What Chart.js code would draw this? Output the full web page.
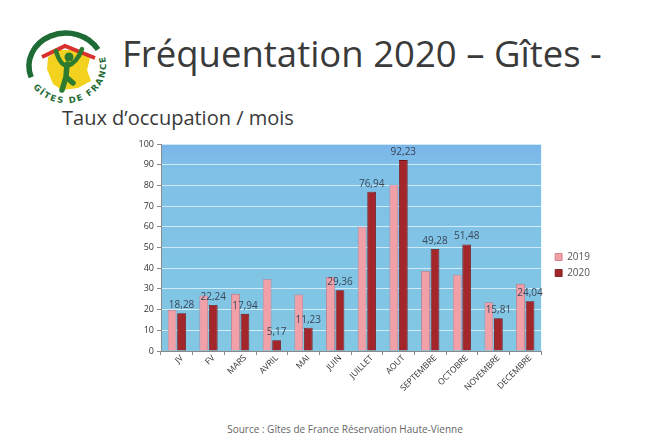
<!DOCTYPE html>
<html lang="fr">
<head>
<meta charset="utf-8">
<script src="https://cdn.jsdelivr.net/npm/chart.js@4.4.0/dist/chart.umd.min.js"></script>
<style>
  html, body { margin:0; padding:0; background:#fff; width:658px; height:439px; overflow:hidden; }
  .t { position:absolute; white-space:nowrap; line-height:1; font-family:"Open Sans", sans-serif; }
  #title { left:122px; top:35px; font-size:36.5px; color:#3a3a3a; }
  #sub { left:62px; top:108px; font-size:20px; color:#3a3a3a; }
  #src { left:0; width:690px; text-align:center; top:424px; font-size:10px; color:#666; }
  #wrap { position:absolute; left:100px; top:128px; width:500px; height:280px; }
</style>
</head>
<body>
<svg width="130" height="115" style="position:absolute;left:0;top:0">
  <defs>
    <path id="arcTxt" d="M 33.2 87.2 A 40 37 0 0 0 103.6 53.3" fill="none"/>
  </defs>
  <path d="M 31.2 77.3 A 37 33 0 0 1 98 49.5" fill="none" stroke="#1f6b35" stroke-width="5.5"/>
  <polygon points="48,57 60,50 77,50 90,58 87,70 91,81 78,88 62,90 53,84 47,69" fill="#f2d21e"/>
  <polyline points="42,57 65,46 95,58" fill="none" stroke="#d8302c" stroke-width="4" stroke-linejoin="miter"/>
  <circle cx="69" cy="57" r="4.5" fill="#2e7a2f"/>
  <path d="M 56 51 Q 60 65 67 66 Q 77 63 82 49" fill="none" stroke="#2e7a2f" stroke-width="4.5" stroke-linecap="round"/>
  <path d="M 67 64 L 66 77 L 62 90 M 66 77 L 73 83" fill="none" stroke="#2e7a2f" stroke-width="5.5" stroke-linecap="round"/>
  <text font-family="DejaVu Sans, sans-serif" font-weight="bold" font-size="8.5" fill="#1f6b35">
    <textPath href="#arcTxt" startOffset="0" textLength="108" lengthAdjust="spacing">GÎTES DE FRANCE</textPath>
  </text>
</svg>
<div class="t" id="title">Fréquentation 2020 – Gîtes -</div>
<div class="t" id="sub">Taux d’occupation / mois</div>
<div class="t" id="src">Source : Gîtes de France Réservation Haute-Vienne</div>
<div id="wrap"><canvas id="c"></canvas></div>
<script>
const months = ["JV","FV","MARS","AVRIL","MAI","JUIN","JUILLET","AOUT","SEPTEMBRE","OCTOBRE","NOVEMBRE","DECEMBRE"];
const seriesNames = ["2019","2020"];
const values2019 = [19.8, 26.8, 27.6, 34.7, 27.3, 35.8, 60.0, 80.3, 38.7, 36.8, 23.5, 32.4];
const values2020 = [18.28, 22.24, 17.94, 5.17, 11.23, 29.36, 76.94, 92.23, 49.28, 51.48, 15.81, 24.04];
const yMin = 0, yMax = 100, yStep = 10;

const plotBg = {
  id:'plotBg',
  beforeDraw(chart){
    const {ctx, chartArea:a} = chart;
    const g = ctx.createLinearGradient(0, a.top, 0, a.bottom);
    g.addColorStop(0, '#7bb5ea');
    g.addColorStop(0.13, '#7fc1e7');
    g.addColorStop(1, '#82c7e3');
    ctx.save(); ctx.fillStyle = g; ctx.fillRect(a.left, a.top, a.right-a.left, a.bottom-a.top); ctx.restore();
  }
};
const legendShift = {
  id:'legendShift',
  beforeDraw(chart){
    const l = chart.legend;
    if (l && !l._shifted) { l.left += 8; l.right += 8; l.top -= 11; l.bottom -= 11; l._shifted = true; }
  }
};
const valueLabels = {
  id:'valueLabels',
  afterDatasetsDraw(chart){
    const {ctx} = chart;
    const meta = chart.getDatasetMeta(1);
    ctx.save();
    ctx.font = '10px "Open Sans", sans-serif';
    ctx.fillStyle = '#3a4658';
    ctx.textAlign = 'center';
    ctx.textBaseline = 'bottom';
    meta.data.forEach((bar, i) => {
      ctx.fillText(values2020[i].toFixed(2).replace('.', ','), bar.x, bar.y - 3);
    });
    ctx.restore();
  }
};

new Chart(document.getElementById('c'), {
  type:'bar',
  data:{
    labels: months,
    datasets:[
      { label: seriesNames[0], data: values2019, backgroundColor:'#f2a0a8', borderColor:'#c97480', borderWidth:0.8,
        categoryPercentage:0.6, barPercentage:0.92 },
      { label: seriesNames[1], data: values2020, backgroundColor:'#a3272a', borderColor:'#6d1416', borderWidth:0.8,
        categoryPercentage:0.6, barPercentage:0.92 }
    ]
  },
  options:{
    responsive:true, maintainAspectRatio:false, animation:false,
    layout:{ padding:{ left:0, right:8, top:16, bottom:0 } },
    plugins:{
      legend:{ position:'right', align:'center', maxWidth:52,
        labels:{ boxWidth:7, boxHeight:7, padding:6, color:'#555', font:{ family:'"Open Sans", sans-serif', size:10 } } },
      tooltip:{ enabled:false }
    },
    scales:{
      x:{
        grid:{ drawOnChartArea:false, tickColor:'#8a8a8a', tickLength:4 },
        border:{ color:'#8a8a8a' },
        ticks:{ color:'#333', font:{ family:'"Open Sans", sans-serif', size:8.5 }, minRotation:45, maxRotation:45, padding:-2, labelOffset:5 },
        afterFit(s){ s.height = 57; }
      },
      y:{
        min:yMin, max:yMax,
        grid:{ color:'rgba(215,240,250,0.9)', tickColor:'#8a8a8a', tickLength:4 },
        border:{ color:'#8a8a8a' },
        ticks:{ stepSize:yStep, color:'#333', font:{ family:'"Open Sans", sans-serif', size:9 }, padding:3 },
        afterFit(s){ s.width = 61; }
      }
    }
  },
  plugins:[plotBg, legendShift, valueLabels]
});
</script>
</body>
</html>
